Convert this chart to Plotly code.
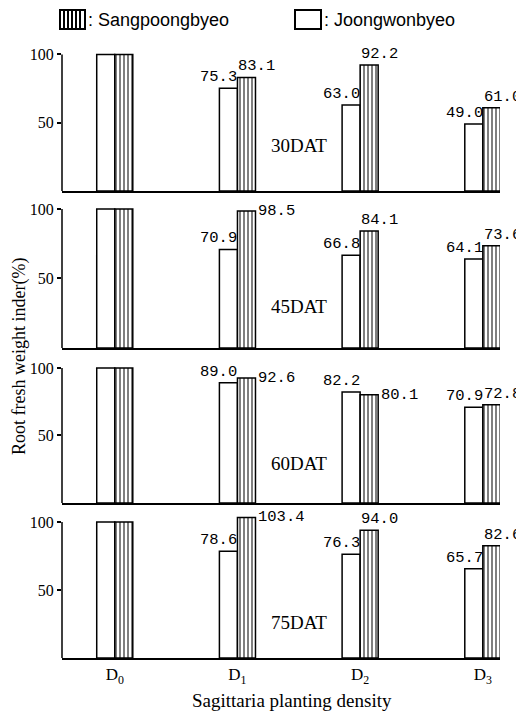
import plotly.graph_objects as go
from plotly.subplots import make_subplots

# ---- data ----
densities = ["D<sub>0</sub>", "D<sub>1</sub>", "D<sub>2</sub>", "D<sub>3</sub>"]
stages = ["30DAT", "45DAT", "60DAT", "75DAT"]

joong_30 = [100, 75.3, 63.0, 49.0]
joong_45 = [100, 70.9, 66.8, 64.1]
joong_60 = [100, 89.0, 82.2, 70.9]
joong_75 = [100, 78.6, 76.3, 65.7]

sang_30 = [100, 83.1, 92.2, 61.0]
sang_45 = [100, 98.5, 84.1, 73.6]
sang_60 = [100, 92.6, 80.1, 72.8]
sang_75 = [100, 103.4, 94.0, 82.6]

joong = [joong_30, joong_45, joong_60, joong_75]
sang = [sang_30, sang_45, sang_60, sang_75]

yticks = [50, 100]

# ---- style ----
OFF = 8  # page body margin
W, H = 524 - OFF, 715 - OFF
ML, MR, MT, MB = 62 - OFF, 24, 38 - OFF, 57
PW, PH = W - ML - MR, H - MT - MB
BW = 0.147
SERIF = "Liberation Serif"
MONO = "Liberation Mono"
VAL_SIZE = 15.5
domains = [[0.7532, 1.0], [0.5, 0.7511], [0.25, 0.4939], [0.0, 0.2456]]
stage_label_y = [33, 30, 29, 26]
# label placement for the striped-bar values ("a" above, "r" right of bar)
sang_pos = [["a", "a", "a", "a"], ["a", "r", "a", "a"], ["a", "r", "r", "a"], ["a", "r", "a", "a"]]

xpos = list(range(len(densities)))

fig = make_subplots(rows=4, cols=1)

annotations = []
shapes = []
for k in range(4):
    r = k + 1
    fig.add_trace(go.Bar(
        x=xpos, y=joong[k], width=BW, offset=-BW,
        marker=dict(color="white", line=dict(color="black", width=1.5)),
        name="Joongwonbyeo", showlegend=False), row=r, col=1)
    fig.add_trace(go.Bar(
        x=xpos, y=sang[k], width=BW, offset=0,
        marker=dict(color="white", line=dict(color="black", width=1.5),
                    pattern=dict(shape="|", fgcolor="black", bgcolor="white",
                                 size=4, solidity=0.5, fillmode="overlay")),
        name="Sangpoongbyeo", showlegend=False), row=r, col=1)

    xa = "x" if k == 0 else f"x{r}"
    ya = "y" if k == 0 else f"y{r}"
    for i in xpos:
        if i == 0:
            continue
        annotations.append(dict(
            x=i, y=joong[k][i], xref=xa, yref=ya, text=f"{joong[k][i]:.1f}",
            xanchor="right", yanchor="bottom", xshift=2, yshift=0, showarrow=False,
            font=dict(family=MONO, size=VAL_SIZE, color="black")))
        if sang_pos[k][i] == "a":
            annotations.append(dict(
                x=i, y=sang[k][i], xref=xa, yref=ya, text=f"{sang[k][i]:.1f}",
                xanchor="left", yanchor="bottom", xshift=-1, yshift=0, showarrow=False,
                font=dict(family=MONO, size=VAL_SIZE, color="black")))
        else:
            annotations.append(dict(
                x=i + BW, y=sang[k][i], xref=xa, yref=ya, text=f"{sang[k][i]:.1f}",
                xanchor="left", yanchor="middle", xshift=1, showarrow=False,
                font=dict(family=MONO, size=VAL_SIZE, color="black")))
    annotations.append(dict(
        x=1.5, y=stage_label_y[k], xref=xa, yref=ya, text=stages[k],
        xanchor="center", yanchor="middle", showarrow=False,
        font=dict(family=SERIF, size=19, color="black")))
    # y axis line from 0 to 100
    shapes.append(dict(type="line", xref=f"{xa} domain", yref=ya, x0=0, x1=0,
                       y0=0, y1=100, line=dict(color="black", width=1.5)))

    fig.update_yaxes(row=r, col=1, range=[0, 112], domain=domains[k],
                     tickvals=yticks, ticks="outside", ticklen=4, tickwidth=1.5,
                     tickcolor="black", showline=False, showgrid=False, zeroline=False,
                     tickfont=dict(family=SERIF, size=16, color="black"))
    fig.update_xaxes(row=r, col=1, range=[-0.43, 3.14], showline=True,
                     linecolor="black", linewidth=1.5, showgrid=False, zeroline=False,
                     tickvals=xpos, ticktext=densities, ticks="",
                     showticklabels=(k == 3),
                     tickfont=dict(family=SERIF, size=17, color="black"))


def px(xp):
    return (xp - OFF - ML) / PW


def py(yp):
    return (H - MB - (yp - OFF)) / PH


# legend drawn at top
for (x0, x1, striped, label) in [(60, 85, True, ": Sangpoongbyeo"), (295, 321, False, ": Joongwonbyeo")]:
    shapes.append(dict(type="rect", xref="paper", yref="paper", x0=px(x0), x1=px(x1),
                       y0=py(29), y1=py(10), line=dict(color="black", width=2), fillcolor="white"))
    if striped:
        for lx in [64, 68, 72, 76, 80]:
            shapes.append(dict(type="line", xref="paper", yref="paper", x0=px(lx), x1=px(lx),
                               y0=py(29), y1=py(10), line=dict(color="black", width=2)))
    annotations.append(dict(x=px(x1 + 1), y=py(20), xref="paper", yref="paper", text=label,
                            xanchor="left", yanchor="middle", showarrow=False,
                            font=dict(family="Liberation Sans", size=18, color="black")))

annotations.append(dict(x=px(19), y=py(357), xref="paper", yref="paper",
                        text="Root fresh weight inder(%)", textangle=-90,
                        xanchor="center", yanchor="middle", showarrow=False,
                        font=dict(family=SERIF, size=18, color="black")))
annotations.append(dict(x=px(292), y=py(700), xref="paper", yref="paper",
                        text="Sagittaria planting density",
                        xanchor="center", yanchor="middle", showarrow=False,
                        font=dict(family=SERIF, size=19, color="black")))

fig.update_layout(
    width=W, height=H, margin=dict(l=ML, r=MR, t=MT, b=MB),
    paper_bgcolor="white", plot_bgcolor="white",
    barmode="overlay", showlegend=False,
    annotations=annotations, shapes=shapes,
)

fig.write_html("out.html")
